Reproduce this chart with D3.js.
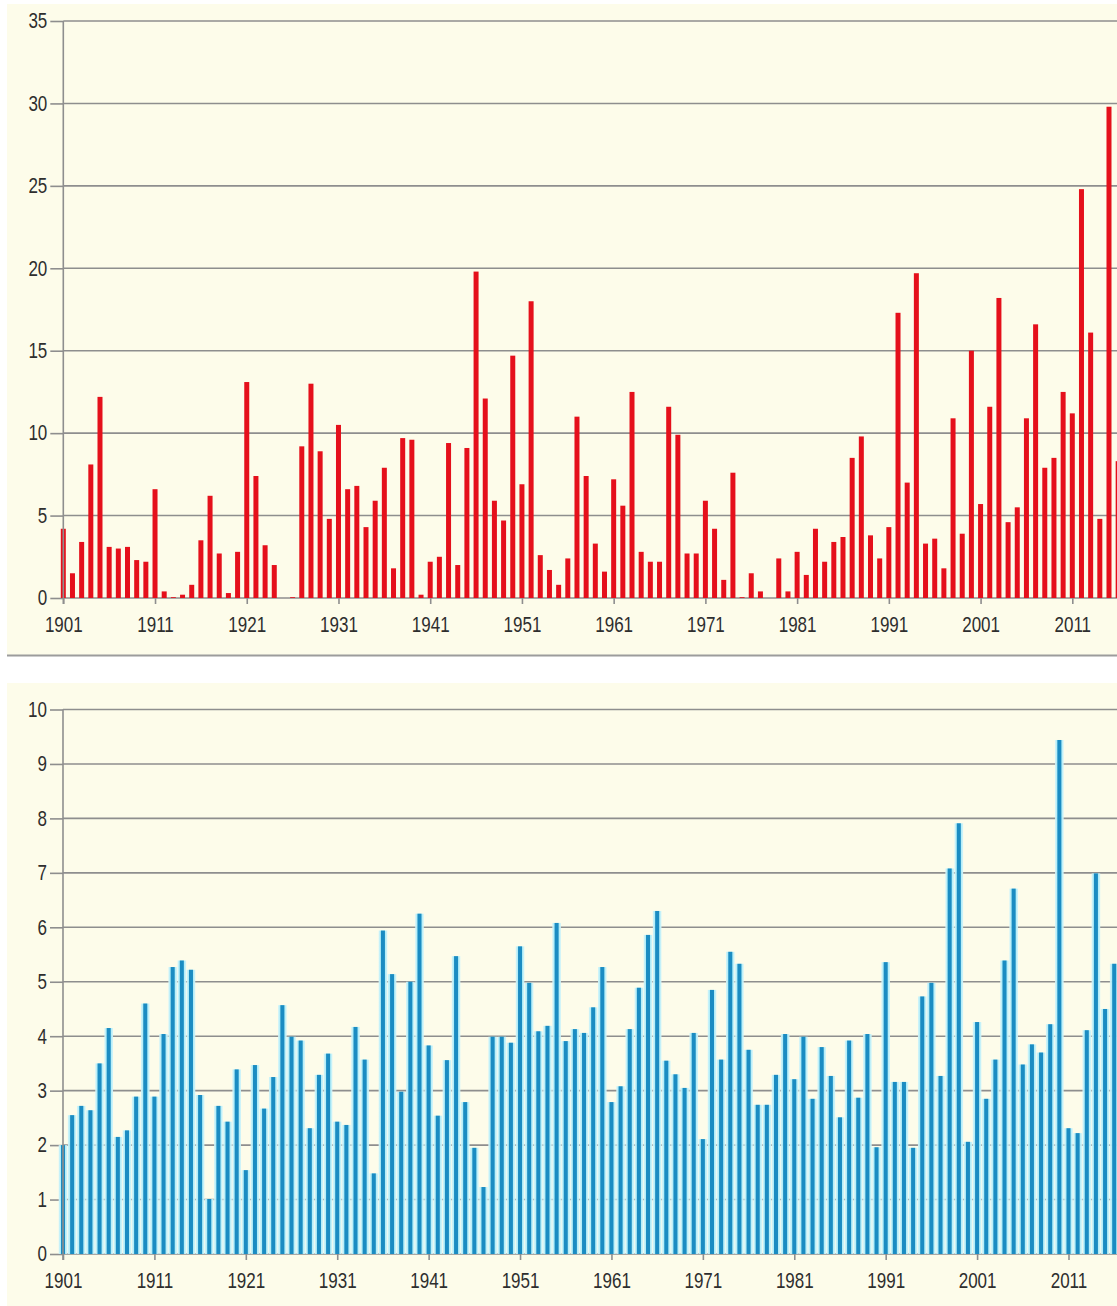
<!DOCTYPE html>
<html>
<head>
<meta charset="utf-8">
<script src="https://cdn.jsdelivr.net/npm/d3@7"></script>
<style>
  html, body { margin: 0; padding: 0; background: #ffffff; }
  svg { display: block; }
  .lbl { font-family: "Liberation Sans", Arial, sans-serif; font-size: 17px; fill: #2e2e2e; }
</style>
</head>
<body>
<svg id="chart" width="1117" height="1306"></svg>
<script>
// Years 1901–2016
const firstYear = 1901;
const lastYear = 2016;
const years = d3.range(firstYear, lastYear + 1);
const decadeTicks = [1901, 1911, 1921, 1931, 1941, 1951, 1961, 1971, 1981, 1991, 2001, 2011];

// Upper panel (red bars), one value per year
const redValues = [
  4.2, 1.5, 3.4, 8.1, 12.2, 3.1, 3.0, 3.1, 2.3, 2.2,
  6.6, 0.4, 0.05, 0.2, 0.8, 3.5, 6.2, 2.7, 0.3, 2.8,
  13.1, 7.4, 3.2, 2.0, 0.0, 0.05, 9.2, 13.0, 8.9, 4.8,
  10.5, 6.6, 6.8, 4.3, 5.9, 7.9, 1.8, 9.7, 9.6, 0.2,
  2.2, 2.5, 9.4, 2.0, 9.1, 19.8, 12.1, 5.9, 4.7, 14.7,
  6.9, 18.0, 2.6, 1.7, 0.8, 2.4, 11.0, 7.4, 3.3, 1.6,
  7.2, 5.6, 12.5, 2.8, 2.2, 2.2, 11.6, 9.9, 2.7, 2.7,
  5.9, 4.2, 1.1, 7.6, 0.05, 1.5, 0.4, 0.0, 2.4, 0.4,
  2.8, 1.4, 4.2, 2.2, 3.4, 3.7, 8.5, 9.8, 3.8, 2.4,
  4.3, 17.3, 7.0, 19.7, 3.3, 3.6, 1.8, 10.9, 3.9, 15.0,
  5.7, 11.6, 18.2, 4.6, 5.5, 10.9, 16.6, 7.9, 8.5, 12.5,
  11.2, 24.8, 16.1, 4.8, 29.8, 8.3
];
const redTicks = [0, 5, 10, 15, 20, 25, 30, 35];

// Lower panel (blue bars), one value per year
const blueValues = [
  2.0, 2.55, 2.72, 2.64, 3.5, 4.15, 2.15, 2.27, 2.89, 4.6,
  2.89, 4.04, 5.27, 5.39, 5.22, 2.92, 1.01, 2.72, 2.43, 3.39,
  1.54, 3.47, 2.67, 3.25, 4.57, 3.99, 3.92, 2.31, 3.29, 3.68,
  2.43, 2.37, 4.17, 3.57, 1.48, 5.94, 5.14, 2.98, 5.0, 6.25,
  3.83, 2.54, 3.56, 5.47, 2.79, 1.95, 1.23, 3.99, 3.99, 3.88,
  5.65, 4.98, 4.09, 4.19, 6.08, 3.91, 4.13, 4.06, 4.53, 5.27,
  2.79, 3.08, 4.13, 4.89, 5.86, 6.3, 3.55, 3.3, 3.05, 4.06,
  2.11, 4.85, 3.57, 5.55, 5.33, 3.75, 2.74, 2.74, 3.29, 4.04,
  3.21, 3.99, 2.85, 3.8, 3.27, 2.51, 3.92, 2.87, 4.04, 1.96,
  5.36, 3.16, 3.16, 1.95, 4.73, 4.98, 3.27, 7.08, 7.91, 2.06,
  4.26, 2.85, 3.57, 5.39, 6.71, 3.48, 3.85, 3.7, 4.22, 9.44,
  2.31, 2.22, 4.11, 6.99, 4.5, 5.33
];
const blueTicks = [0, 1, 2, 3, 4, 5, 6, 7, 8, 9, 10];

const W = 1117;
const stretch = 1.25;          // labels are drawn slightly tall
const svg = d3.select("#chart");
const cream = "#fdfcea";
const gridColor = "#8e8e8e";

// gradient used for the soft halo around each blue bar
const defs = svg.append("defs");
const halo = defs.append("linearGradient").attr("id", "halo")
  .attr("x1", "0%").attr("x2", "100%").attr("y1", "0%").attr("y2", "0%");
halo.append("stop").attr("offset", "0%").attr("stop-color", "#d4f5fa");
halo.append("stop").attr("offset", "30%").attr("stop-color", "#9fe8f8");
halo.append("stop").attr("offset", "70%").attr("stop-color", "#9fe8f8");
halo.append("stop").attr("offset", "100%").attr("stop-color", "#d4f5fa");

function drawPanel(cfg) {
  const g = svg.append("g");

  g.append("rect")
    .attr("x", cfg.bgX).attr("y", cfg.bgTop)
    .attr("width", W - cfg.bgX).attr("height", cfg.bgBottom - cfg.bgTop)
    .attr("fill", cream);

  const x = d3.scaleLinear().domain([firstYear, cfg.refYear]).range([cfg.x0, cfg.xRef]);
  const y = d3.scaleLinear().domain([0, cfg.max]).range([cfg.yZero, cfg.yTop]);

  // horizontal gridlines
  g.append("g")
    .selectAll("line").data(cfg.ticks).join("line")
    .attr("x1", cfg.x0).attr("x2", W)
    .attr("y1", d => y(d)).attr("y2", d => y(d))
    .attr("stroke", gridColor).attr("stroke-width", 1.6);

  // left axis with short outside ticks
  const yAxis = g.append("g")
    .attr("transform", `translate(${cfg.x0},0)`)
    .call(d3.axisLeft(y).tickValues(cfg.ticks).tickSize(13).tickPadding(3).tickFormat(d3.format("d")));
  yAxis.select(".domain").remove();
  yAxis.selectAll(".tick line").attr("stroke", gridColor).attr("stroke-width", 1.6);
  yAxis.selectAll(".tick text")
    .attr("class", "lbl").attr("font-size", null).attr("font-family", null)
    .attr("transform", `scale(1,${stretch})`);

  // bars
  const bars = g.append("g");
  if (cfg.halo) {
    bars.selectAll("rect.halo").data(cfg.values).join("rect")
      .attr("class", "halo")
      .attr("x", (d, i) => x(years[i]) - cfg.haloW / 2)
      .attr("width", cfg.haloW)
      .attr("y", d => y(d))
      .attr("height", d => y(0) - y(d))
      .attr("fill", "url(#halo)")
      .attr("opacity", 0.95);
  }
  bars.selectAll("rect.bar").data(cfg.values).join("rect")
    .attr("class", "bar")
    .attr("x", (d, i) => x(years[i]) - cfg.barW / 2)
    .attr("width", cfg.barW)
    .attr("y", d => y(d))
    .attr("height", d => y(0) - y(d))
    .attr("fill", cfg.color);

  // vertical axis line
  g.append("line")
    .attr("x1", cfg.x0).attr("x2", cfg.x0)
    .attr("y1", y(cfg.max)).attr("y2", y(0) + 6)
    .attr("stroke", gridColor).attr("stroke-width", 1.6);

  // bottom axis: decade ticks and labels
  const xAxis = g.append("g")
    .attr("transform", `translate(0,${y(0)})`)
    .call(d3.axisBottom(x).tickValues(decadeTicks).tickSize(6).tickPadding(5).tickFormat(d3.format("d")));
  xAxis.select(".domain").remove();
  xAxis.selectAll(".tick line").attr("stroke", gridColor).attr("stroke-width", 1.6);
  xAxis.selectAll(".tick text")
    .attr("class", "lbl").attr("font-size", null).attr("font-family", null)
    .attr("y", 19 / stretch)
    .attr("transform", `scale(1,${stretch})`);
}

// upper panel
drawPanel({
  values: redValues, ticks: redTicks, max: 35,
  bgX: 7, bgTop: 4, bgBottom: 655,
  x0: 63.3, refYear: 2011, xRef: 1072.3,
  yZero: 598, yTop: 21,
  color: "#e5101b", barW: 5, halo: false
});
svg.append("line")
  .attr("x1", 7).attr("x2", W).attr("y1", 655.5).attr("y2", 655.5)
  .attr("stroke", "#9c9c9c").attr("stroke-width", 2);

// lower panel
drawPanel({
  values: blueValues, ticks: blueTicks, max: 10,
  bgX: 7, bgTop: 683, bgBottom: 1306,
  x0: 63, refYear: 2011, xRef: 1068.5,
  yZero: 1254, yTop: 709.5,
  color: "#1b8cc2", barW: 4, halo: true, haloW: 8.6
});
</script>
</body>
</html>
